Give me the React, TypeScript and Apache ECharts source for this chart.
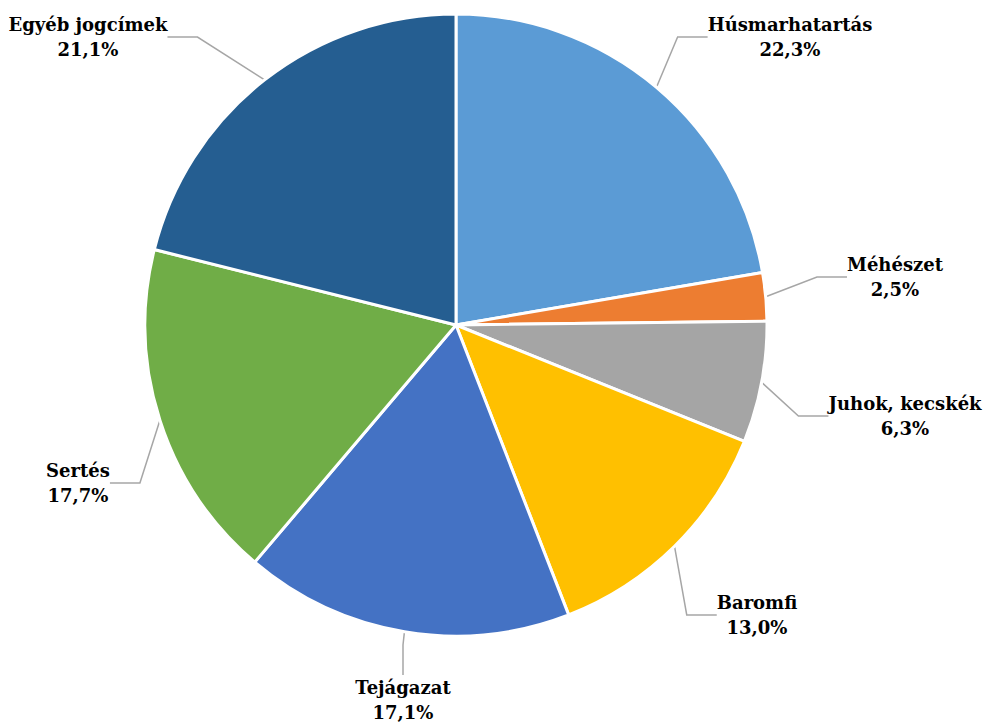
import React, { useEffect, useRef } from "react";
import * as echarts from "echarts";

const categories = [
  "Húsmarhatartás",
  "Méhészet",
  "Juhok, kecskék",
  "Baromfi",
  "Tejágazat",
  "Sertés",
  "Egyéb jogcímek",
];
const values = [22.3, 2.5, 6.3, 13.0, 17.1, 17.7, 21.1];
const colors = ["#5B9BD5", "#ED7D31", "#A5A5A5", "#FFC000", "#4472C4", "#70AD47", "#255E91"];

// label centre positions (layout only)
const labelPos: [number, number][] = [
  [790, 37],
  [895, 277],
  [905, 416],
  [757, 615],
  [403, 700],
  [78, 483],
  [88, 37],
];

export default function App() {
  const ref = useRef<HTMLDivElement>(null);
  useEffect(() => {
    if (!ref.current) return;
    const chart = echarts.init(ref.current, null, { renderer: "svg" });
    chart.setOption({
      animation: false,
      backgroundColor: "#ffffff",
      series: [
        {
          type: "pie",
          center: [456, 325],
          radius: 311,
          startAngle: 90,
          clockwise: true,
          data: categories.map((c, i) => ({
            name: c,
            value: values[i],
            itemStyle: { color: colors[i] },
          })),
          itemStyle: { borderColor: "#ffffff", borderWidth: 3 },
          label: {
            show: true,
            formatter: (p: any) =>
              p.name + "\n" + p.value.toFixed(1).replace(".", ",") + "%",
            fontFamily: "DejaVu Serif",
            fontWeight: "bold",
            fontSize: 18,
            lineHeight: 25,
            color: "#000000",
            align: "center",
          },
          labelLine: {
            show: true,
            lineStyle: { color: "#A6A6A6", width: 1.5 },
          },
          labelLayout: (params: any) => {
            const p = labelPos[params.dataIndex];
            return {
              x: p[0],
              y: p[1],
              align: "center",
              verticalAlign: "middle",
            };
          },
        },
      ],
    });
    return () => chart.dispose();
  }, []);
  return (
    <div
      ref={ref}
      style={{ position: "fixed", left: 0, top: 0, width: 989, height: 728 }}
    />
  );
}
